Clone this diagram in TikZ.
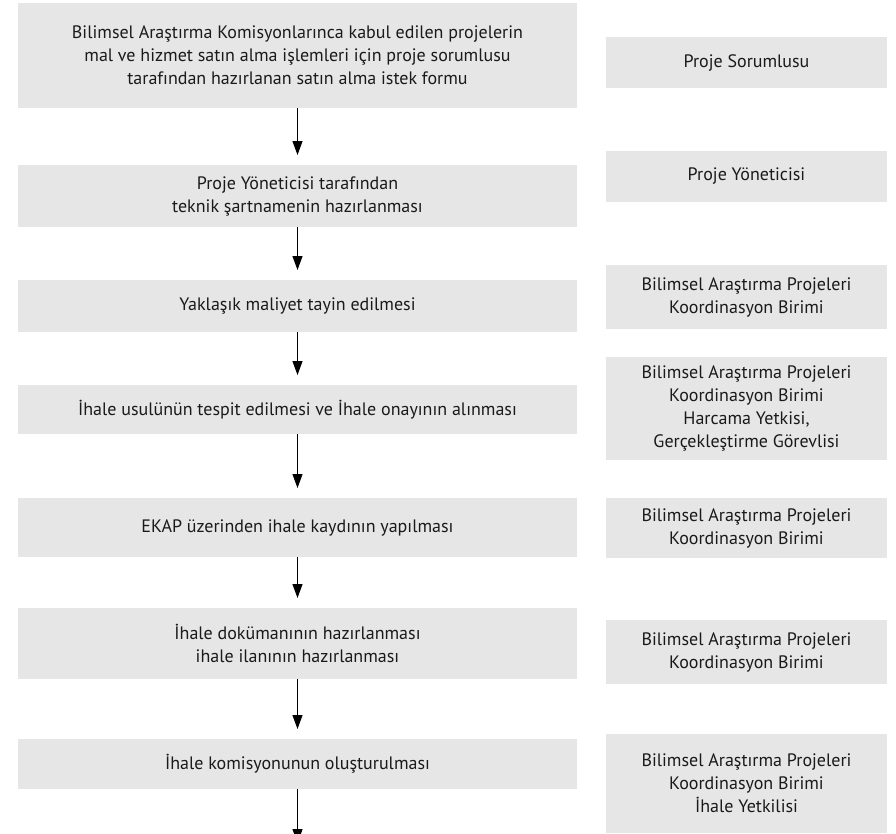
\documentclass[tikz,border=0pt]{standalone}
\usepackage{fontspec}
\setmainfont{PT Sans}
\usepackage{tikz}
\usetikzlibrary{arrows.meta, positioning}

\definecolor{boxgray}{HTML}{E6E6E6}
\definecolor{inkgray}{HTML}{1A1A1A}

\begin{document}
\begin{tikzpicture}[x=1pt, y=1pt,
    stepbox/.style={rectangle, fill=boxgray, inner sep=0pt, outer sep=0pt,
        minimum width=559pt, align=center, text=inkgray,
        font=\fontsize{18}{23}\selectfont},
    rolebox/.style={rectangle, fill=boxgray, inner sep=0pt, outer sep=0pt,
        minimum width=281pt, align=center, text=inkgray,
        font=\fontsize{18}{23}\selectfont},
    arrow/.style={-{Triangle[length=14pt, width=10pt]}, line width=1.2pt,
                  shorten >=10pt}
]
\useasboundingbox (0,0) rectangle (896,-833);
% process steps (left column)
\node[stepbox, minimum height=105pt] (s1) at (297.5,-55.5)
    {Bilimsel Araştırma Komisyonlarınca kabul edilen projelerin\\
     mal ve hizmet satın alma işlemleri için proje sorumlusu\\
     tarafından hazırlanan satın alma istek formu};
\node[stepbox, minimum height=62pt, below=57pt of s1] (s2)
    {Proje Yöneticisi tarafından\\teknik şartnamenin hazırlanması};
\node[stepbox, minimum height=52pt, below=53pt of s2] (s3)
    {Yaklaşık maliyet tayin edilmesi};
\node[stepbox, minimum height=49pt, below=53pt of s3] (s4)
    {İhale usulünün tespit edilmesi ve İhale onayının alınması};
\node[stepbox, minimum height=59pt, below=64pt of s4] (s5)
    {EKAP üzerinden ihale kaydının yapılması};
\node[stepbox, minimum height=71pt, below=51pt of s5] (s6)
    {İhale dokümanının hazırlanması\\ihale ilanının hazırlanması};
\node[stepbox, minimum height=50pt, below=60pt of s6] (s7)
    {İhale komisyonunun oluşturulması};
\coordinate (out) at (297.5,-843);
% responsible units (right column)
\node[rolebox, minimum height=51pt] (r1) at (746.5,-62.5) {Proje Sorumlusu};
\node[rolebox, minimum height=51pt, below=63pt of r1] (r2) {Proje Yöneticisi};
\node[rolebox, minimum height=64pt, below=63pt of r2] (r3)
    {Bilimsel Araştırma Projeleri\\Koordinasyon Birimi};
\node[rolebox, minimum height=103pt, below=28pt of r3] (r4)
    {Bilimsel Araştırma Projeleri\\Koordinasyon Birimi\\
     Harcama Yetkisi,\\Gerçekleştirme Görevlisi};
\node[rolebox, minimum height=60pt, below=38pt of r4] (r5)
    {Bilimsel Araştırma Projeleri\\Koordinasyon Birimi};
\node[rolebox, minimum height=64pt, below=62pt of r5] (r6)
    {Bilimsel Araştırma Projeleri\\Koordinasyon Birimi};
\node[rolebox, minimum height=99pt, below=50pt of r6] (r7)
    {Bilimsel Araştırma Projeleri\\Koordinasyon Birimi\\İhale Yetkilisi};
% arrows
\draw[arrow] (s1) -- (s2);
\draw[arrow] (s2) -- (s3);
\draw[arrow] (s3) -- (s4);
\draw[arrow] (s4) -- (s5);
\draw[arrow] (s5) -- (s6);
\draw[arrow] (s6) -- (s7);
\draw[arrow, shorten >=0pt] (s7) -- (out);
\end{tikzpicture}
\end{document}
